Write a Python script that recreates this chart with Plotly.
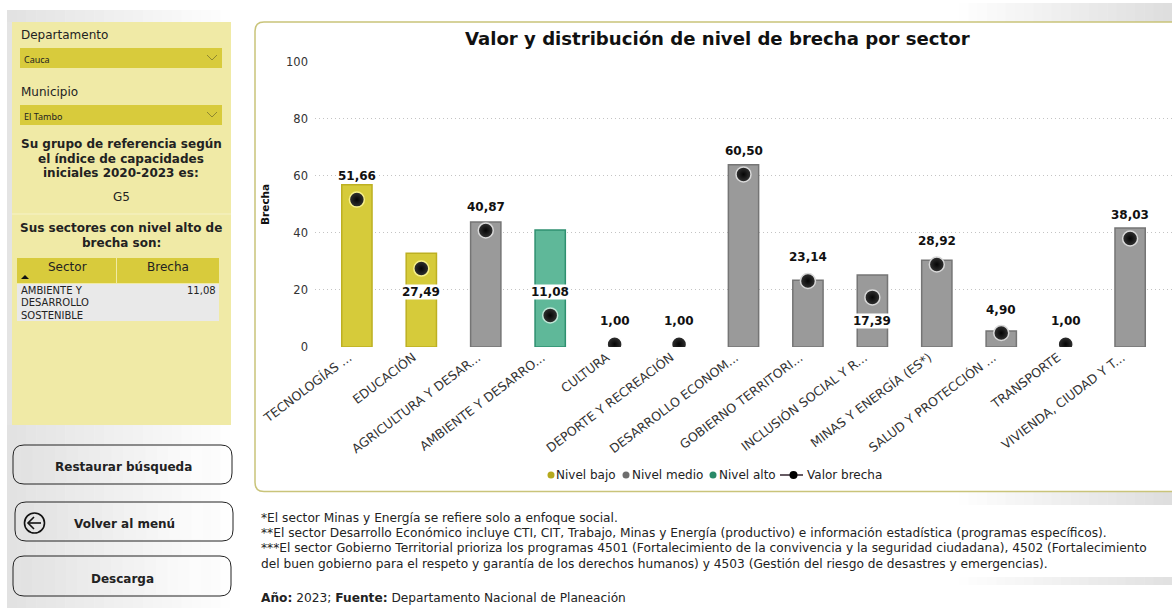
import plotly.graph_objects as go

W, H = 1172, 608
FONT = "DejaVu Sans"
INK = "#222222"

sectores = ["TECNOLOGÍAS ...", "EDUCACIÓN", "AGRICULTURA Y DESAR...", "AMBIENTE Y DESARRO...",
            "CULTURA", "DEPORTE Y RECREACIÓN", "DESARROLLO ECONOM...", "GOBIERNO TERRITORI...",
            "INCLUSIÓN SOCIAL Y R...", "MINAS Y ENERGÍA (ES*)", "SALUD Y PROTECCIÓN ...",
            "TRANSPORTE", "VIVIENDA, CIUDAD Y T..."]
nivel_bajo = [56.9, 32.9, None, None, None, None, None, None, None, None, None, None, None]
nivel_medio = [None, None, 43.8, None, None, None, 63.9, 23.4, 25.2, 30.4, 5.6, None, 41.7]
nivel_alto = [None, None, None, 41.0, None, None, None, None, None, None, None, None, None]
valor_brecha = [51.66, 27.49, 40.87, 11.08, 1.00, 1.00, 60.50, 23.14, 17.39, 28.92, 4.90, 1.00, 38.03]
etiqueta_abajo = ["EDUCACIÓN", "INCLUSIÓN SOCIAL Y R..."]
halos = ["#f7f08a", "#f7f08a", "#d8d8d8", "#bfe6d6", "#ffffff", "#ffffff", "#d8d8d8",
         "#d8d8d8", "#d8d8d8", "#d8d8d8", "#d8d8d8", "#ffffff", "#d8d8d8"]
ticks_y = [0, 20, 40, 60, 80, 100]


def fx(x):
    return x / W


def fy(y):
    return 1 - y / H


def rrect(x0, y0, x1, y1, r):
    a, b, c, d = fx(x0), fy(y0), fx(x1), fy(y1)
    rx, ry = r / W, r / H
    return (f"M {a + rx} {b} L {c - rx} {b} Q {c} {b} {c} {b - ry} L {c} {d + ry} "
            f"Q {c} {d} {c - rx} {d} L {a + rx} {d} Q {a} {d} {a} {d + ry} L {a} {b - ry} "
            f"Q {a} {b} {a + rx} {b} Z")


shapes = []


def rect(x0, y0, x1, y1, fill, line=None, width=1):
    shapes.append(dict(type="rect", xref="paper", yref="paper", x0=fx(x0), x1=fx(x1), y0=fy(y1), y1=fy(y0),
                       fillcolor=fill, line=dict(color=line or fill, width=width if line else 0), layer="below"))


def rounded(x0, y0, x1, y1, r, fill, line, width=1):
    shapes.append(dict(type="path", xref="paper", yref="paper", path=rrect(x0, y0, x1, y1, r),
                       fillcolor=fill, line=dict(color=line, width=width), layer="below"))


def gradient(x0, y0, x1, y1, v0, v1, steps=24):
    for i in range(steps):
        t = i / (steps - 1)
        v = round(v0 + (v1 - v0) * t)
        a = x0 + (x1 - x0) * i / steps
        b = x0 + (x1 - x0) * (i + 1) / steps + 0.5
        rect(a, y0, min(b, x1), y1, f"rgb({v},{v},{v})")


def polyline(pts, color, width=1):
    path = "M " + " L ".join(f"{fx(x)} {fy(y)}" for x, y in pts)
    shapes.append(dict(type="path", xref="paper", yref="paper", path=path,
                       line=dict(color=color, width=width), layer="below"))


def circle(cx, cy, r, fill, line=None, width=1):
    shapes.append(dict(type="circle", xref="paper", yref="paper", x0=fx(cx - r), x1=fx(cx + r),
                       y0=fy(cy + r), y1=fy(cy - r), fillcolor=fill,
                       line=dict(color=line or fill, width=width if line else 0), layer="below"))


annots = []


def text(x, y, s, size=12, anchor="left", color=INK, family=FONT):
    annots.append(dict(xref="paper", yref="paper", x=fx(x), y=fy(y), text=s, showarrow=False,
                       xanchor=anchor, yanchor="middle", align=anchor,
                       font=dict(family=family, size=size, color=color), borderpad=0, borderwidth=0))


# Fondos con degradado
gradient(7, 10, 240, 22, 226, 255)
gradient(7, 425, 240, 608, 226, 255)
rect(7, 22, 12, 425, "#e4e4e4")
gradient(950, 3, 1172, 22, 255, 222)
gradient(950, 492, 1172, 505, 255, 222)
gradient(950, 577, 1172, 585, 255, 225)

# Panel lateral
rect(12, 22, 231, 425, "#f0eaa6")
polyline([(12, 214), (231, 214)], "#f6f2c8", 1)
for y0 in (48, 105):
    rect(20, y0, 222, y0 + 20, "#d8cb3c")
    polyline([(207, y0 + 7), (212, y0 + 12), (217, y0 + 7)], "#8f8730", 1)
text(21, 34.5, "Departamento", 12)
text(21, 91.5, "Municipio", 12)
text(24, 59.5, "Cauca", 9, family="Noto Sans")
text(24, 116.5, "El Tambo", 9, family="Noto Sans")
for i, s in enumerate(["Su grupo de referencia según", "el índice de capacidades", "iniciales 2020-2023 es:"]):
    text(121, 144 + i * 14.5, f"<b>{s}</b>", 12, "center")
text(121, 197, "G5", 12, "center")
text(121, 228, "<b>Sus sectores con nivel alto de</b>", 12, "center")
text(121, 243, "<b>brecha son:</b>", 12, "center")

# Tabla
rect(17, 258, 116, 283, "#d8cb3c")
rect(117, 258, 219, 283, "#d8cb3c")
rect(17, 284, 219, 321, "#e9e9e9")
text(67, 267, "Sector", 12, "center")
text(168, 267, "Brecha", 12, "center")
shapes.append(dict(type="path", xref="paper", yref="paper",
                   path=f"M {fx(21)} {fy(279)} L {fx(29)} {fy(279)} L {fx(25)} {fy(275)} Z",
                   fillcolor="#111111", line=dict(width=0), layer="below"))
for i, s in enumerate(["AMBIENTE Y", "DESARROLLO", "SOSTENIBLE"]):
    text(21, 290 + i * 12.7, s, 10)
text(216, 290, "11,08", 10, "right")

# Botones
for (x0, y0, x1, y1), s, cx in [((13, 445, 232, 484), "Restaurar búsqueda", 123.5),
                                ((15, 502, 233, 541), "Volver al menú", 124.5),
                                ((13, 556, 231, 596), "Descarga", 123)]:
    gradient(x0 + 8, y0 + 2, x1 - 30, y1 - 2, 226, 252, steps=16)
    rounded(x0, y0, x1, y1, 11, "rgba(0,0,0,0)", "#222222", 1)
    text(cx, (y0 + y1) / 2 + 2.5, f"<b>{s}</b>", 12, "center")
circle(34.5, 523, 10, "rgba(0,0,0,0)", "#111111", 1.6)
polyline([(41, 523), (28, 523)], "#111111", 1.6)
polyline([(34, 517), (28, 523), (34, 529)], "#111111", 1.6)

# Marco del gráfico
rounded(255, 22, 1190, 491.5, 9, "#ffffff", "#c9c47a", 1.5)

# Título y leyenda
text(717.5, 38, "<b>Valor y distribución de nivel de brecha por sector</b>", 18.1, "center", "#111111")
legend_y = 475
circle(551, legend_y, 3.5, "#b5a91c")
text(556, legend_y, "Nivel bajo", 12)
circle(626, legend_y, 3.5, "#6e6e6e")
text(632, legend_y, "Nivel medio", 12)
circle(713, legend_y, 3.5, "#2a8a68")
text(719, legend_y, "Nivel alto", 12)
polyline([(780, legend_y), (803, legend_y)], "#33242f", 1.5)
circle(793.5, legend_y, 4, "#000000")
text(807, legend_y, "Valor brecha", 12)

# Notas
NOTA = 12.2
text(261, 517.5, "*El sector Minas y Energía se refiere solo a enfoque social.", NOTA)
text(261, 532.5, "**El sector Desarrollo Económico incluye CTI, CIT, Trabajo, Minas y Energía (productivo) e información estadística (programas específicos).", NOTA)
text(261, 547.5, "***El sector Gobierno Territorial prioriza los programas 4501 (Fortalecimiento de la convivencia y la seguridad ciudadana), 4502 (Fortalecimiento", NOTA)
text(261, 564, "del buen gobierno para el respeto y garantía de los derechos humanos) y 4503 (Gestión del riesgo de desastres y emergencias).", NOTA)
text(261, 597.5, "<b>Año:</b> 2023; <b>Fuente:</b> Departamento Nacional de Planeación", NOTA)

# Etiquetas de datos
for c, v in zip(sectores, valor_brecha):
    annots.append(dict(xref="x", yref="y", x=c, y=v, text=f"<b>{v:.2f}</b>".replace(".", ","),
                       showarrow=False, yshift=-23.5 if c in etiqueta_abajo else 23.5,
                       bgcolor="#ffffff", font=dict(family=FONT, size=12, color="#111111"), borderpad=0))

fig = go.Figure()
for name, vals, fill, edge in [("Nivel bajo", nivel_bajo, "#d6cb3a", "#bdb022"),
                               ("Nivel medio", nivel_medio, "#9a9a9a", "#757575"),
                               ("Nivel alto", nivel_alto, "#5fb899", "#2f9070")]:
    fig.add_trace(go.Bar(name=name, x=sectores, y=vals, width=0.47, showlegend=False,
                         marker=dict(color=fill, line=dict(color=edge, width=1.5))))
fig.add_trace(go.Scatter(name="Valor brecha", x=sectores, y=valor_brecha, mode="markers", showlegend=False,
                         marker=dict(size=15, color="#333333", gradient=dict(type="radial", color="#050505"),
                                     line=dict(color=halos, width=1.5))))

fig.update_layout(
    width=W, height=H, margin=dict(l=0, r=0, t=0, b=0), autosize=False,
    paper_bgcolor="#ffffff", plot_bgcolor="rgba(0,0,0,0)", barmode="overlay", showlegend=False,
    font=dict(family=FONT, color=INK), shapes=shapes, annotations=annots,
    xaxis=dict(domain=[fx(315), 1], range=[-0.65, 12.65], type="category", categoryorder="array",
               categoryarray=sectores, tickangle=-37, tickfont=dict(size=12.5, color="#333333"),
               ticklabelshift=-8, showgrid=False, ticks="", showline=False, zeroline=False, automargin=False),
    yaxis=dict(domain=[fy(347), fy(61.7)], range=[0, 100], tickvals=ticks_y, griddash="1px,3px",
               gridcolor="#c4c4c4", gridwidth=1, zeroline=False, showline=False, ticks="",
               tickfont=dict(size=11.5, color="#333333"), ticklabelstandoff=6, automargin=False,
               title=dict(text="<b>Brecha</b>", font=dict(size=10.5, color="#111111"), standoff=14)),
)
fig.write_html("out.html", config=dict(displayModeBar=False),
               post_script="document.body.style.margin='0';document.body.style.overflow='hidden';")
